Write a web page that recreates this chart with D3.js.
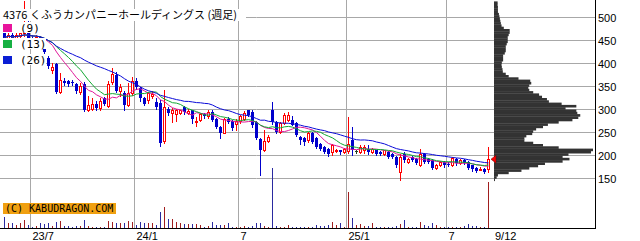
<!DOCTYPE html>
<html>
<head>
<meta charset="utf-8">
<script src="https://cdn.jsdelivr.net/npm/d3@7"></script>
<style>
  body { margin: 0; background: #fff; }
  svg { display: block; }
  text { font-family: "Liberation Sans", Arial, sans-serif; }
</style>
</head>
<body>
<div id="chart"></div>
<script>
// weekly candles, 2023-05-15 .. 2025-09-08
const weeks = d3.timeMonday.range(new Date(2023, 4, 15), new Date(2025, 8, 9));

const open = [470,456,463,455,460,466,472,456,450,457,442,413,385,400,338,363,361,360,355,337,356,300,302,312,303,325,308,360,375,340,
  336,310,335,363,346,324,320,330,316,315,232,302,292,290,293,305,292,298,273,277,290,285,294,280,262,250,280,276,268,276,
  280,298,295,273,236,211,232,298,272,252,270,278,277,270,240,237,233,250,237,226,219,215,208,210,211,208,210,233,210,208,
  211,215,208,211,207,204,208,204,197,164,204,186,197,193,179,204,193,190,172,179,186,182,180,193,183,190,186,179,172,170,170,171];
const high = [478,470,468,466,472,535,500,462,462,460,446,416,401,402,380,368,365,364,358,357,360,330,324,318,325,328,362,390,382,355,
  340,357,371,368,350,328,338,340,325,320,342,306,303,302,300,308,302,300,284,293,292,298,298,282,264,282,283,278,280,288,
  296,300,298,275,238,255,245,317,274,273,292,295,286,272,242,240,252,252,240,228,221,217,225,215,213,217,284,262,212,222,
  222,222,217,213,209,213,209,206,199,204,208,195,199,195,215,206,195,192,181,188,188,185,196,195,192,192,188,180,174,174,172,219];
const low = [452,450,452,450,455,460,452,446,446,438,420,390,380,335,335,353,352,354,335,333,297,297,298,300,300,309,305,355,338,330,
  300,308,332,345,318,310,315,325,302,220,228,288,273,276,290,290,290,270,265,275,282,282,276,260,238,248,270,255,256,270,
  278,285,262,235,157,210,230,268,249,248,268,275,266,243,226,222,230,228,216,212,205,200,202,207,203,206,205,201,205,206,
  206,204,206,202,201,202,195,195,176,146,186,184,188,181,178,184,184,170,170,177,176,178,178,180,181,181,170,166,164,168,162,164];
const close = [456,463,455,461,466,472,456,450,457,442,424,395,392,338,364,357,356,357,340,352,300,310,312,303,318,312,355,378,340,350,
  310,336,363,349,324,313,335,334,305,228,305,292,298,298,298,295,296,280,276,291,285,295,278,262,248,280,272,260,276,286,
  292,288,266,237,212,232,240,272,251,270,288,288,266,245,233,230,250,230,219,215,208,204,222,212,208,215,225,211,210,218,
  218,208,215,204,203,211,197,197,179,197,190,193,190,183,204,186,186,172,179,186,179,181,194,183,190,183,172,170,166,171,164,192];
const volume = [113,47,47,30,47,80,30,13,23,47,37,47,23,63,73,20,20,13,20,20,80,20,13,13,13,13,73,57,53,53,
  47,73,57,30,57,47,47,47,30,163,213,87,87,57,47,37,37,43,37,30,13,20,63,30,30,30,47,13,13,13,
  23,13,23,47,53,23,13,600,20,13,13,30,13,13,7,7,7,7,30,23,23,30,63,30,53,13,363,103,30,37,
  23,20,53,13,13,13,13,13,20,37,80,13,13,13,63,30,20,53,30,13,13,7,13,13,13,23,37,23,23,7,13,463];

// price-volume profile (5-yen bins, lower edge)
const profilePrice = d3.range(145, 535, 5);
const profileVol = [1,2.7,4,15,28,36,45,52,70,77,70,76,99,101,66,50,40,31,31,33,39,40,43,50,55,66,80,86,88,85,
  84,73,84,69,56,54,49,46,40,36,35,36,38,37,25,15,12,9,8.7,8,7.7,8,9.3,9.3,9.3,11,12,12,12,13,14,14,14,15,16,16,10,7.7,7,6.5,
  6,5.5,5,4,4,4,3.7,3.7];

const priceTicks = [150,200,250,300,350,400,450,500];
const monthWeeks = ["2023-07-03","2024-01-01","2024-07-01","2025-01-06","2025-06-30"];
const monthLabels = ["23/7","24/1","7","25/1","7"];
const lastLabel = "9/12";
const maPeriods = [9, 13, 26];
const maColors = ["#e0189a", "#12a832", "#0a0ad8"];
const legendColors = ["#e8149c", "#16b042", "#0a1ed4"];

const width = 640, height = 241;
const plotRight = 595, baseY = 228;

const svg = d3.select("#chart").append("svg")
  .attr("width", width).attr("height", height);

const x = d3.scalePoint().domain(d3.range(weeks.length)).range([4.5, 488.5]);
const y = d3.scaleLinear().domain([150, 500]).range([178.5, 17.5]);
// volume: 10 units per pixel
const vy = d3.scaleLinear().domain([0, 100]).range([baseY, baseY - 10]);
const px = d3.scaleLinear().domain([0, d3.max(profileVol)]).range([494, 593]);

const fmt = d3.timeFormat("%Y-%m-%d");
const weekIndex = new Map(weeks.map((w, i) => [fmt(w), i]));

// grid
const grid = svg.append("g").attr("stroke", "#a8a8a8").attr("stroke-width", 1);
priceTicks.forEach(t => {
  grid.append("line").attr("x1", 0).attr("x2", plotRight).attr("y1", y(t)).attr("y2", y(t));
});
monthWeeks.forEach(w => {
  const gx = x(weekIndex.get(w)) - 2;
  grid.append("line").attr("x1", gx).attr("x2", gx).attr("y1", 0).attr("y2", baseY);
});

// volume profile
svg.append("g").selectAll("rect").data(profilePrice).join("rect")
  .attr("x", 494)
  .attr("y", (p) => y(p + 5))
  .attr("width", (p, i) => px(profileVol[i]) - 494)
  .attr("height", (p) => y(p) - y(p + 5) + 0.3)
  .attr("fill", "#333333");

// volume bars
svg.append("g").selectAll("line").data(volume).join("line")
  .attr("x1", (v, i) => x(i)).attr("x2", (v, i) => x(i))
  .attr("y1", baseY).attr("y2", v => Math.round(vy(v)))
  .attr("stroke", (v, i) => close[i] >= open[i] ? "#a01e1e" : "#2a2aa0");

// candles
const candles = svg.append("g");
weeks.forEach((w, i) => {
  const cx = x(i);
  const up = close[i] > open[i], flat = close[i] === open[i];
  const col = flat ? "#204020" : up ? "#ff0000" : "#0000cc";
  candles.append("line")
    .attr("x1", cx).attr("x2", cx)
    .attr("y1", Math.round(y(high[i]))).attr("y2", Math.round(y(low[i])) + 1)
    .attr("stroke", col);
  const top = Math.round(y(Math.max(open[i], close[i])));
  const bot = Math.round(y(Math.min(open[i], close[i])));
  if (up) {
    candles.append("rect")
      .attr("x", cx - 1).attr("y", top + 0.5)
      .attr("width", 2).attr("height", Math.max(1, bot - top))
      .attr("fill", "#fff").attr("stroke", col);
  } else {
    candles.append("rect")
      .attr("x", cx - 1.5).attr("y", top)
      .attr("width", 3).attr("height", Math.max(1, bot - top))
      .attr("fill", col);
  }
});

// moving averages of the closes
maPeriods.forEach((n, k) => {
  const ma = close.map((c, i) => d3.mean(close.slice(Math.max(0, i - n + 1), i + 1)));
  svg.append("path")
    .datum(ma)
    .attr("fill", "none")
    .attr("stroke", maColors[k])
    .attr("stroke-width", 1)
    .attr("d", d3.line().x((d, i) => x(i)).y(d => y(d)));
});

// axes
svg.append("line").attr("x1", plotRight + 0.5).attr("x2", plotRight + 0.5)
  .attr("y1", 0).attr("y2", baseY + 1).attr("stroke", "#000");
svg.append("line").attr("x1", 0).attr("x2", plotRight + 1)
  .attr("y1", baseY + 0.5).attr("y2", baseY + 0.5).attr("stroke", "#000");

svg.append("g").selectAll("text").data(priceTicks).join("text")
  .attr("x", 598).attr("y", t => y(t) + 4)
  .attr("font-size", 11).text(t => t);

monthWeeks.forEach((w, k) => {
  svg.append("text")
    .attr("x", x(weekIndex.get(w)))
    .attr("y", 240).attr("font-size", 11)
    .text(monthLabels[k]);
});
svg.append("text").attr("x", 495).attr("y", 240).attr("font-size", 11).text(lastLabel);

// last close marker
const lc = y(close[close.length - 1]);
svg.append("path")
  .attr("d", `M491,${lc}L496,${lc - 4}L496,${lc + 4}Z`)
  .attr("fill", "#ff0000").attr("stroke", "#600").attr("stroke-width", 0.5);

// title
const title = svg.append("g");
title.append("rect").attr("x", 0).attr("y", 9).attr("width", 246).attr("height", 12).attr("fill", "#fff");
title.append("text").attr("x", 3).attr("y", 19)
  .attr("font-size", 11)
  .style("font-family", "'Noto Sans CJK JP', sans-serif")
  .text("4376 くふうカンパニーホールディングス (週足)");

// legend
const legend = svg.append("g");
maPeriods.forEach((n, k) => {
  const ly = 23 + k * 16;
  legend.append("rect").attr("x", 0).attr("y", ly - 1).attr("width", 46).attr("height", 11).attr("fill", "#fff");
  legend.append("rect").attr("x", 3).attr("y", ly + 1).attr("width", 9).attr("height", 8).attr("fill", legendColors[k]);
  legend.append("text").attr("x", 20).attr("y", ly + 9)
    .attr("font-size", 11).style("font-family", "'DejaVu Sans Mono', monospace")
    .text(`(${n})`);
});

// watermark
svg.append("rect").attr("x", 3).attr("y", 203).attr("width", 113).attr("height", 11).attr("fill", "#f0a010");
svg.append("text").attr("x", 5).attr("y", 212).attr("font-size", 10)
  .style("font-family", "'DejaVu Sans Mono', monospace")
  .text("(C) KABUDRAGON.COM");
</script>
</body>
</html>
